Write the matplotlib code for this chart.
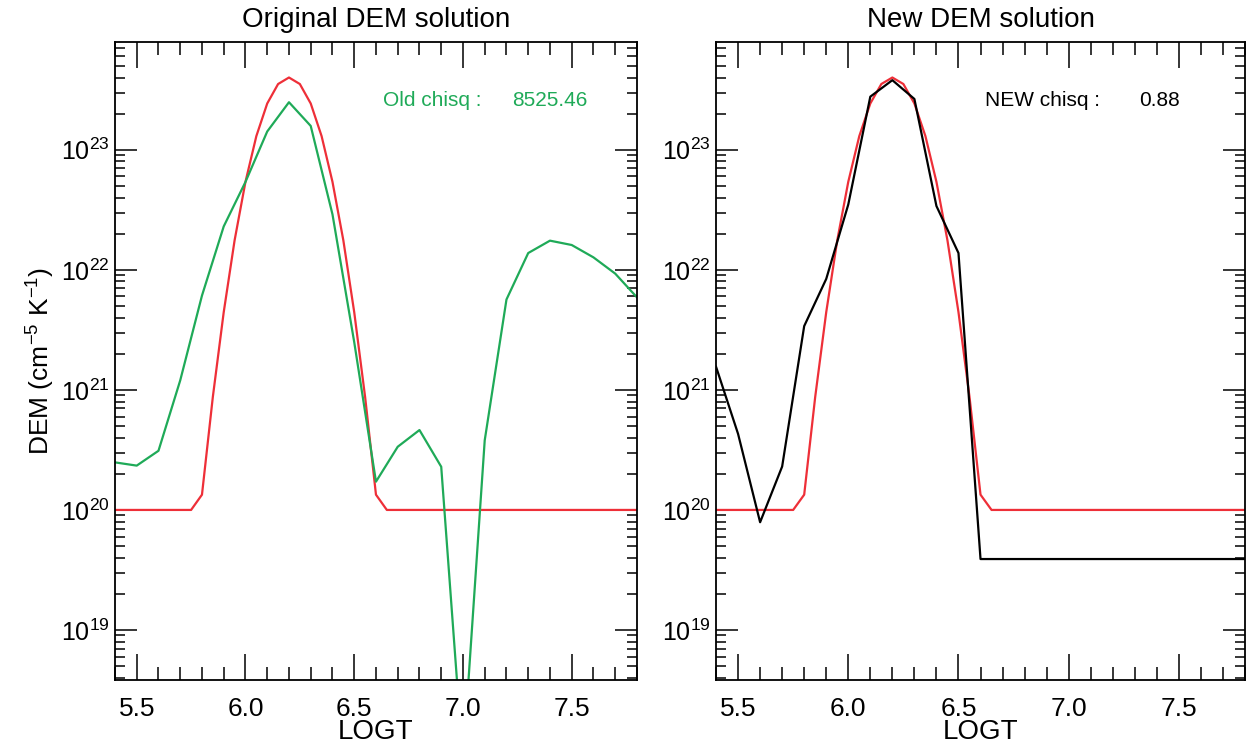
# Original vs. new DEM solution, log DEM against LOGT

import numpy as np
import matplotlib
matplotlib.use('Agg')
import matplotlib.pyplot as plt
from matplotlib.ticker import MultipleLocator, LogLocator, LogFormatterMathtext

plt.rcParams['font.family'] = ['Liberation Sans', 'DejaVu Sans']
plt.rcParams['mathtext.fontset'] = 'custom'
plt.rcParams['mathtext.rm'] = 'Liberation Sans'

# temperature grid of the DEM solutions
logt = [5.4, 5.5, 5.6, 5.7, 5.8, 5.9, 6.0, 6.1, 6.2, 6.3, 6.4, 6.5,
        6.6, 6.7, 6.8, 6.9, 7.0, 7.1, 7.2, 7.3, 7.4, 7.5, 7.6, 7.7, 7.8]

# original (old) DEM solution
dem_old = [2.49e20, 2.34e20, 3.11e20, 1.2e21, 6.1e21, 2.3e22, 5.4e22, 1.42e23,
           2.49e23, 1.58e23, 2.9e22, 2.5e21, 1.72e20, 3.36e20, 4.63e20, 2.29e20,
           8e17, 3.8e20, 5.66e21, 1.38e22, 1.75e22, 1.61e22, 1.27e22, 9.3e21, 5.9e21]

# new DEM solution
dem_new = [1.56e21, 4.3e20, 7.9e19, 2.3e20, 3.4e21, 8.4e21, 3.5e22, 2.77e23,
           3.8e23, 2.65e23, 3.4e22, 1.38e22, 3.9e19, 3.9e19, 3.9e19, 3.9e19,
           3.9e19, 3.9e19, 3.9e19, 3.9e19, 3.9e19, 3.9e19, 3.9e19, 3.9e19, 3.9e19]

# true (input) DEM, finer grid
logt_true = [5.40, 5.75, 5.80, 5.85, 5.90, 5.95, 6.00, 6.05, 6.10, 6.15, 6.20,
             6.25, 6.30, 6.35, 6.40, 6.45, 6.50, 6.55, 6.60, 6.65, 7.80]
dem_true = [1e20, 1e20, 1.34e20, 8.75e20, 4.44e21, 1.76e22, 5.41e22, 1.30e23,
            2.43e23, 3.53e23, 4.0e23, 3.53e23, 2.43e23, 1.30e23, 5.41e22,
            1.76e22, 4.44e21, 8.75e20, 1.34e20, 1e20, 1e20]

chisq_old = 8525.46
chisq_new = 0.88

red = '#EE2F38'
green = '#1FAA58'
fs = 19

fig = plt.figure(figsize=(12.47, 7.45), dpi=100)
ax1 = fig.add_axes([0.0922, 0.0872, 0.4186, 0.8564])
ax2 = fig.add_axes([0.5742, 0.0872, 0.4242, 0.8564])

def style_axis(ax, title):
    ax.set_yscale('log')
    ax.set_xlim(5.4, 7.8)
    ax.set_ylim(3.83e18, 7.9e23)
    ax.xaxis.set_major_locator(MultipleLocator(0.5))
    ax.xaxis.set_minor_locator(MultipleLocator(0.1))
    ax.yaxis.set_major_locator(LogLocator(base=10))
    ax.yaxis.set_minor_locator(LogLocator(base=10, subs=np.arange(2, 10)))
    ax.yaxis.set_major_formatter(LogFormatterMathtext())
    ax.xaxis.set_major_formatter(lambda v, p: f'{v:.1f}')
    ax.tick_params(axis='x', which='major', direction='in', top=True, length=18.5, width=1.1,
                   labelsize=fs, pad=12)
    ax.tick_params(axis='x', which='minor', direction='in', top=True, length=9.3, width=1.1)
    ax.tick_params(axis='y', which='major', direction='in', right=True, length=15.5, width=1.1,
                   labelsize=fs - 1, pad=4)
    ax.tick_params(axis='y', which='minor', direction='in', right=True, length=7.5, width=1.1)
    for s in ax.spines.values():
        s.set_linewidth(1.3)
    ax.set_title(title, fontsize=fs + 1, pad=11)
    ax.set_xlabel('LOGT', fontsize=fs + 1, labelpad=-1)

style_axis(ax1, 'Original DEM solution')
ax1.plot(logt_true, dem_true, color=red, lw=1.6)
ax1.plot(logt, dem_old, color=green, lw=1.6)
ax1.set_ylabel('DEM (cm$^{\\mathdefault{-5}}$ K$^{\\mathdefault{-1}}$)', fontsize=fs, labelpad=3)
ax1.text(0.513, 0.909, 'Old chisq :', color=green, fontsize=15,
         transform=ax1.transAxes, va='center')
ax1.text(0.760, 0.909, f'{chisq_old:.2f}', color=green, fontsize=15,
         transform=ax1.transAxes, va='center')

style_axis(ax2, 'New DEM solution')
ax2.plot(logt_true, dem_true, color=red, lw=1.6)
ax2.plot(logt, dem_new, color='black', lw=1.6)
ax2.text(0.508, 0.909, 'NEW chisq :', color='black', fontsize=15,
         transform=ax2.transAxes, va='center')
ax2.text(0.800, 0.909, f'{chisq_new:.2f}', color='black', fontsize=15,
         transform=ax2.transAxes, va='center')

fig.savefig('out.png', dpi=100)
